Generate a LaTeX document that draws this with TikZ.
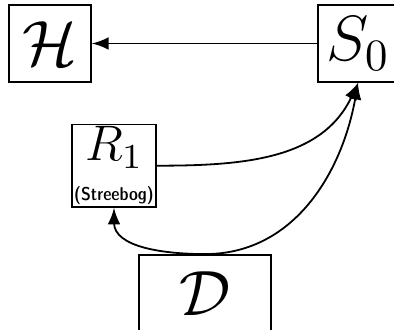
\RequirePackage{fix-cm}
\documentclass[tikz,border=0pt]{standalone}
\usepackage{amsmath}
\usepackage{fontspec}
\newfontfamily\condsans{lmsansdemicond10-regular}[Extension=.otf]
\usetikzlibrary{arrows,positioning}

\begin{document}
\begin{tikzpicture}[x=0.25pt, y=0.25pt, >=latex, line width=0.45pt,
  blk/.style={draw, minimum width=20.5pt, minimum height=19.25pt, inner sep=0.5pt, font=\fontsize{16}{19}\selectfont}]
\useasboundingbox (0,0) rectangle (394,330);
\node[blk] (H) at (50,286.5) {$\mathcal{H}$};
\node[blk, minimum width=20pt] (S0) at (358,286.5) {$S_0$};
\node[blk, minimum width=20.75pt, align=center, font=\fontsize{12.5}{13}\selectfont] (R1) at (114,164.3) {$R_1$\\[-3pt]{\fontsize{4.65}{5.5}\condsans (Streebog)}};
\node[blk, minimum width=33pt] (D) at (205,36.5) {$\mathcal{D}$};
\draw[->] (S0) -- (H);
\draw[->] (R1.east) to[out=0,in=-115] (S0.south);
\draw[->] (D.north) to[out=0,in=-100] (S0.south);
\draw[->] (D.north) to[out=180,in=-90] (R1.south);
\end{tikzpicture}
\end{document}
